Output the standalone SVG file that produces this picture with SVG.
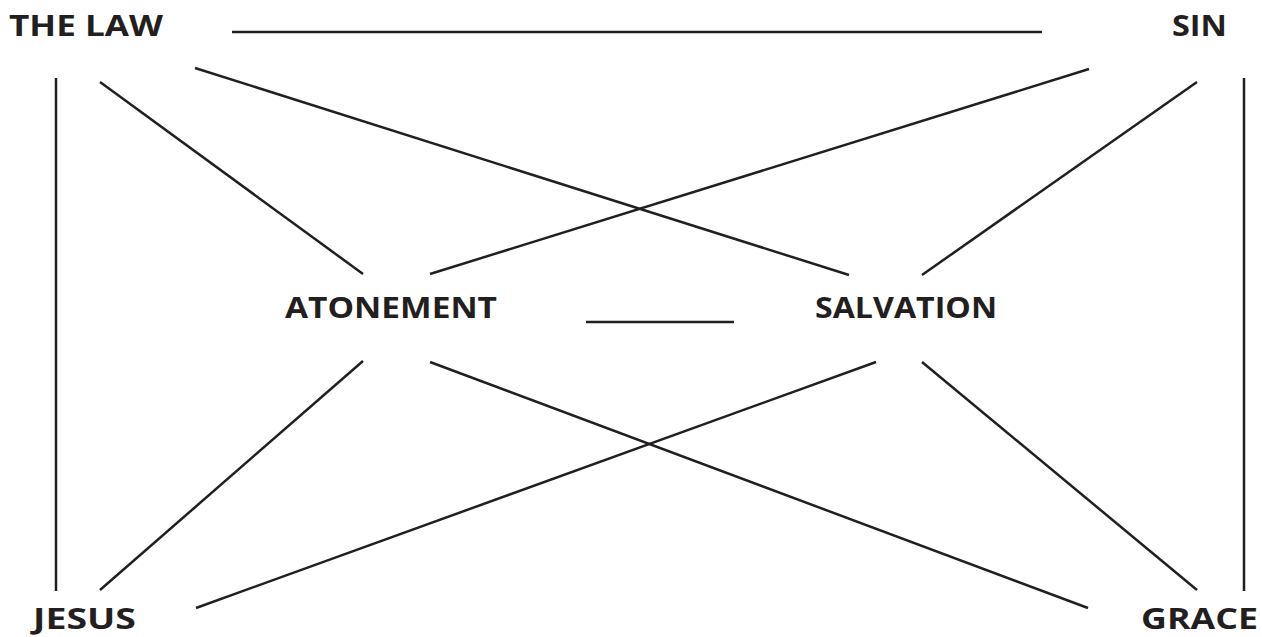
<svg xmlns="http://www.w3.org/2000/svg" width="1262" height="637" viewBox="0 0 1262 637">
<style>
text{font-family:"Open Sans","DejaVu Sans",sans-serif;font-weight:bold;font-size:28px;fill:#231f20}
.c line{stroke:#231f20;stroke-width:2.5;stroke-linecap:butt}
</style>
<rect width="1262" height="637" fill="#fff"/>
<g class="c" id="connectors">
<line x1="232" y1="32" x2="1042" y2="32"/>
<line x1="56" y1="78" x2="56" y2="591"/>
<line x1="1244" y1="78" x2="1244" y2="591"/>
<line x1="100" y1="82" x2="363" y2="274"/>
<line x1="195" y1="68" x2="849" y2="275"/>
<line x1="1089" y1="69" x2="430" y2="274"/>
<line x1="1197" y1="82" x2="922" y2="275"/>
<line x1="363" y1="361" x2="100" y2="590"/>
<line x1="430" y1="362" x2="1088" y2="608"/>
<line x1="876" y1="362" x2="196" y2="608"/>
<line x1="922" y1="362" x2="1197" y2="590"/>
<line x1="586" y1="322" x2="734" y2="322"/>
</g>
<g id="the-law"><text x="9" y="36" textLength="154" lengthAdjust="spacingAndGlyphs">THE LAW</text></g>
<g id="sin"><text x="1172" y="36" textLength="55" lengthAdjust="spacingAndGlyphs">SIN</text></g>
<g id="atonement"><text x="285" y="318" textLength="212" lengthAdjust="spacingAndGlyphs">ATONEMENT</text></g>
<g id="salvation"><text x="815" y="318" textLength="182" lengthAdjust="spacingAndGlyphs">SALVATION</text></g>
<g id="jesus"><text x="33" y="629" textLength="103" lengthAdjust="spacingAndGlyphs">JESUS</text></g>
<g id="grace"><text x="1141" y="629" textLength="117" lengthAdjust="spacingAndGlyphs">GRACE</text></g>
</svg>
